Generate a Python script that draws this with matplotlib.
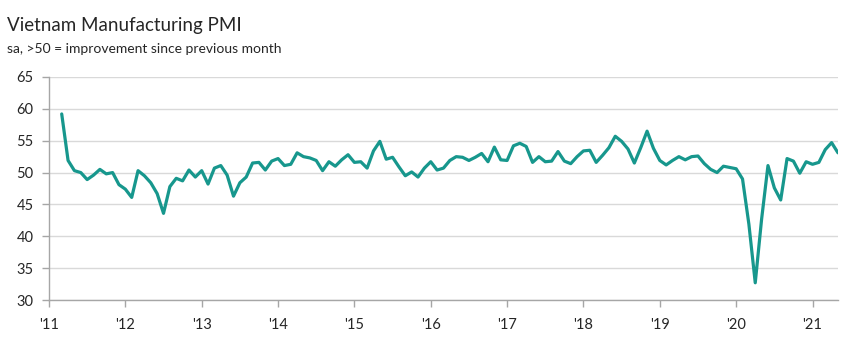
import matplotlib
matplotlib.use("Agg")
import matplotlib.pyplot as plt

# Vietnam Manufacturing PMI, monthly, Mar 2011 - May 2021 (sa)
pmi_2011 = [59.2, 51.9, 50.3, 50.0, 48.9, 49.6, 50.5, 49.8, 50.0, 48.1]  # Mar-Dec
pmi_2012 = [47.4, 46.1, 50.3, 49.5, 48.4, 46.7, 43.6, 47.8, 49.1, 48.7, 50.4, 49.3]
pmi_2013 = [50.3, 48.2, 50.7, 51.1, 49.6, 46.3, 48.4, 49.3, 51.5, 51.6, 50.4, 51.8]
pmi_2014 = [52.2, 51.1, 51.3, 53.1, 52.5, 52.3, 51.9, 50.3, 51.7, 51.0, 52.0, 52.8]
pmi_2015 = [51.6, 51.7, 50.7, 53.4, 54.9, 52.1, 52.4, 50.9, 49.5, 50.1, 49.3, 50.7]
pmi_2016 = [51.7, 50.4, 50.7, 51.9, 52.5, 52.4, 51.9, 52.4, 53.0, 51.7, 54.0, 52.0]
pmi_2017 = [51.9, 54.2, 54.6, 54.1, 51.6, 52.5, 51.7, 51.8, 53.3, 51.8, 51.4, 52.5]
pmi_2018 = [53.4, 53.5, 51.6, 52.7, 53.9, 55.7, 54.9, 53.7, 51.5, 53.9, 56.5, 53.8]
pmi_2019 = [51.9, 51.2, 51.9, 52.5, 52.0, 52.5, 52.6, 51.4, 50.5, 50.0, 51.0, 50.8]
pmi_2020 = [50.6, 49.0, 41.9, 32.7, 42.7, 51.1, 47.6, 45.7, 52.2, 51.8, 49.9, 51.7]
pmi_2021 = [51.3, 51.6, 53.6, 54.7, 53.1]  # Jan-May

year_labels = ["'11", "'12", "'13", "'14", "'15", "'16", "'17", "'18", "'19", "'20", "'21"]

pmi = (pmi_2011 + pmi_2012 + pmi_2013 + pmi_2014 + pmi_2015 + pmi_2016
       + pmi_2017 + pmi_2018 + pmi_2019 + pmi_2020 + pmi_2021)
# months counted from Jan 2011, series starts in March
months = list(range(2, 2 + len(pmi)))

plt.rcParams['font.family'] = ['Lato', 'DejaVu Sans']

fig = plt.figure(figsize=(8.46, 3.55), dpi=100)
ax = fig.add_axes([0.0579, 0.1549, 0.9326, 0.6282])

ax.plot(months, pmi, color='#17978d', linewidth=2.3, solid_joinstyle='round',
        solid_capstyle='round', zorder=3)

ax.set_xlim(0, months[-1])
ax.set_ylim(30, 65)
ax.set_yticks(range(30, 70, 5))
ax.set_xticks(range(0, 12 * len(year_labels), 12))
ax.set_xticklabels(year_labels)

ax.grid(axis='y', color='#d9d9d9', linewidth=1.0)
ax.set_axisbelow(True)
for side in ['top', 'right']:
    ax.spines[side].set_visible(False)
for side in ['left', 'bottom']:
    ax.spines[side].set_color('#a6a6a6')
    ax.spines[side].set_linewidth(1.0)

ax.tick_params(axis='both', colors='#a6a6a6', labelcolor='#262626',
               labelsize=10.5, length=5, width=1.0)
ax.tick_params(axis='x', pad=8)
ax.tick_params(axis='y', pad=6)

fig.text(0.008, 0.912, 'Vietnam Manufacturing PMI', fontsize=13.5, color='#262626')
fig.text(0.008, 0.85, 'sa, >50 = improvement since previous month', fontsize=10,
         color='#262626')

fig.savefig('out.png', dpi=100)
